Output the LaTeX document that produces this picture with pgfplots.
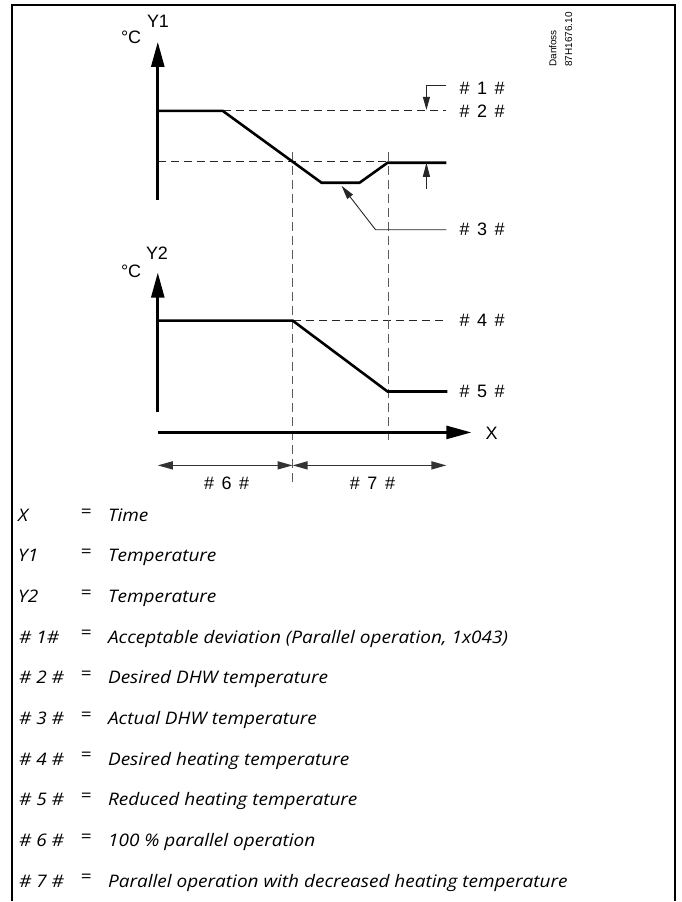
\documentclass[border=0pt]{standalone}
\usepackage{fontspec}
\setmainfont{Liberation Sans}
\newfontfamily\legfont[FakeStretch=1.1]{Open Sans}
\usepackage{pgfplots}
\pgfplotsset{compat=1.18}
\usetikzlibrary{arrows.meta}

% line styles
\tikzset{
  curve/.style={line width=2.6pt, black, line join=miter},
  dsh/.style={line width=1pt, black!85, dash pattern=on 8pt off 5pt},
  vdsh/.style={line width=1pt, black!65, dash pattern=on 9pt off 5pt},
  thin/.style={line width=0.9pt, black!85},
  lbl/.style={font=\fontsize{18}{20}\selectfont, inner sep=0pt},
  leg/.style={font=\legfont\itshape\fontsize{17.3}{20}\selectfont, inner sep=0pt, anchor=base west},
  eq/.style={font=\legfont\fontsize{17.3}{20}\selectfont, inner sep=0pt},
}
\newcommand{\tag}[1]{\#\hspace{0.42em}#1\hspace{0.42em}\#}

\begin{document}
\begin{tikzpicture}
\begin{axis}[
  width=682pt, height=902pt, scale only axis,
  xmin=0, xmax=682, ymin=0, ymax=902, y dir=reverse,
  hide axis, clip=false,
]
% page extent and frame
\addplot[draw=none] coordinates {(0,0) (682,902)};
\addplot[line width=2.4pt] coordinates {(12,902) (12,5) (676,5) (676,902)};

% dashed guides
\addplot[dsh] coordinates {(223,111) (447,111)};
\addplot[dsh] coordinates {(158,162) (388,162)};
\addplot[dsh] coordinates {(293,321) (448,321)};
\addplot[vdsh] coordinates {(293,152) (293,488)};
\addplot[vdsh] coordinates {(389,152) (389,445)};

% axes
\addplot[line width=2.6pt, -{Triangle[length=25pt,width=13pt]}] coordinates {(158,200) (158,42)};
\addplot[line width=2.6pt, -{Triangle[length=25pt,width=13pt]}] coordinates {(158,413) (158,273)};
\addplot[line width=2.6pt, -{Triangle[length=25pt,width=13pt]}] coordinates {(158,433) (472,433)};

% Y1 curve (DHW)
\addplot[curve] coordinates {(158,111) (223,111) (322,183) (360,183) (388,163) (447,163)};
% Y2 curve (heating)
\addplot[curve] coordinates {(158,321) (293,321) (388,392) (448,392)};

% acceptable deviation bracket
\addplot[thin, -{Triangle[length=13pt,width=7pt]}] coordinates {(447,86) (427,86) (427,110)};
\addplot[thin, -{Triangle[length=14pt,width=7pt]}] coordinates {(427,189) (427,163)};
% pointer to actual DHW temperature
\addplot[thin, -{Triangle[length=14pt,width=7pt]}] coordinates {(447,230) (376,230) (342,186)};

% time spans
\addplot[line width=1.5pt, black!80, {Triangle[length=15pt,width=8pt]}-{Triangle[length=15pt,width=8pt]}] coordinates {(158,466) (293,466)};
\addplot[line width=1.5pt, black!80, {Triangle[length=15pt,width=8pt]}-{Triangle[length=15pt,width=8pt]}] coordinates {(293,466) (447,466)};

% diagram labels
\node[lbl, anchor=base west] at (axis cs:147,28) {Y1};
\node[lbl, anchor=base west] at (axis cs:121,44) {°C};
\node[lbl, anchor=base west] at (axis cs:146,260) {Y2};
\node[lbl, anchor=base west] at (axis cs:121,278) {°C};
\node[lbl, anchor=base west] at (axis cs:486,440) {X};
\node[lbl, anchor=west] at (axis cs:460,88) {\tag{1}};
\node[lbl, anchor=west] at (axis cs:460,111) {\tag{2}};
\node[lbl, anchor=west] at (axis cs:460,230) {\tag{3}};
\node[lbl, anchor=west] at (axis cs:460,321) {\tag{4}};
\node[lbl, anchor=west] at (axis cs:460,392) {\tag{5}};
\node[lbl, anchor=base] at (axis cs:227,490) {\tag{6}};
\node[lbl, anchor=base] at (axis cs:373,490) {\tag{7}};
\node[font=\fontsize{10}{11}\selectfont, inner sep=0pt, rotate=90, anchor=base west] at (axis cs:557,67) {Danfoss};
\node[font=\fontsize{10}{11}\selectfont, inner sep=0pt, rotate=90, anchor=base west] at (axis cs:573,67) {87H1676.10};

% legend
\node[leg] at (axis cs:18,522.0) {X};
\node[leg] at (axis cs:18,562.7) {Y1};
\node[leg] at (axis cs:18,603.4) {Y2};
\node[leg] at (axis cs:19,644.1) {\# 1\#};
\node[leg] at (axis cs:19,684.8) {\# 2 \#};
\node[leg] at (axis cs:19,725.5) {\# 3 \#};
\node[leg] at (axis cs:19,766.2) {\# 4 \#};
\node[leg] at (axis cs:19,806.9) {\# 5 \#};
\node[leg] at (axis cs:19,847.6) {\# 6 \#};
\node[leg] at (axis cs:19,888.3) {\# 7 \#};
\node[eq] at (axis cs:86.5,513.5) {=};
\node[eq] at (axis cs:86.5,554.2) {=};
\node[eq] at (axis cs:86.5,594.9) {=};
\node[eq] at (axis cs:86.5,635.6) {=};
\node[eq] at (axis cs:86.5,676.3) {=};
\node[eq] at (axis cs:86.5,717.0) {=};
\node[eq] at (axis cs:86.5,757.7) {=};
\node[eq] at (axis cs:86.5,798.4) {=};
\node[eq] at (axis cs:86.5,839.1) {=};
\node[eq] at (axis cs:86.5,879.8) {=};
\node[leg] at (axis cs:108,522.0) {Time};
\node[leg] at (axis cs:108,562.7) {Temperature};
\node[leg] at (axis cs:108,603.4) {Temperature};
\node[leg] at (axis cs:108,644.1) {Acceptable deviation (Parallel operation, 1x043)};
\node[leg] at (axis cs:108,684.8) {Desired DHW temperature};
\node[leg] at (axis cs:108,725.5) {Actual DHW temperature};
\node[leg] at (axis cs:108,766.2) {Desired heating temperature};
\node[leg] at (axis cs:108,806.9) {Reduced heating temperature};
\node[leg] at (axis cs:108,847.6) {100 \% parallel operation};
\node[leg] at (axis cs:108,888.3) {Parallel operation with decreased heating temperature};
\end{axis}
\end{tikzpicture}
\end{document}
